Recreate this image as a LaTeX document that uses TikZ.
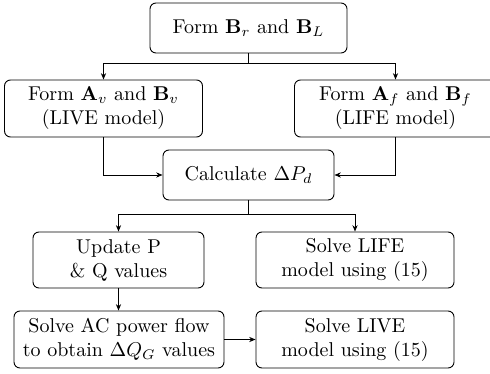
\documentclass[tikz,border=0pt]{standalone}
\usetikzlibrary{arrows.meta}
\begin{document}
\begin{tikzpicture}[x=0.5pt,y=-0.5pt,
  blk/.style={draw,rounded corners=3pt,align=center,inner sep=1pt,line width=0.45pt},
  arr/.style={-{Stealth[length=3.2pt,width=2.6pt]},line width=0.45pt},
  ln/.style={line width=0.45pt}]
\useasboundingbox (0,0) rectangle (490,373);
\node[blk,minimum width=98.5pt,minimum height=25pt] (top) at (248.5,28) {Form $\mathbf{B}_r$ and $\mathbf{B}_L$};
\node[blk,minimum width=99pt,minimum height=28.5pt] (lv) at (103.5,108.5) {Form $\mathbf{A}_v$ and $\mathbf{B}_v$\\(LIVE model)};
\node[blk,minimum width=101pt,minimum height=28.5pt] (lf) at (395.5,108.5) {Form $\mathbf{A}_f$ and $\mathbf{B}_f$\\(LIFE model)};
\node[blk,minimum width=85.5pt,minimum height=25pt] (calc) at (248.5,175) {Calculate $\Delta P_d$};
\node[blk,minimum width=85.5pt,minimum height=28pt] (upd) at (118.5,260) {Update P\\\& Q values};
\node[blk,minimum width=99pt,minimum height=28pt] (life) at (355,260) {Solve LIFE\\model using (15)};
\node[blk,minimum width=105pt,minimum height=28.5pt] (ac) at (119,339.5) {Solve AC power flow\\to obtain $\Delta Q_G$ values};
\node[blk,minimum width=99pt,minimum height=28.5pt] (live) at (355,339.5) {Solve LIVE\\model using (15)};
\coordinate (s1) at (248.5,63);
\coordinate (s2) at (248.5,214);
\draw[ln] (top.south) -- (s1);
\draw[arr] (s1) -| (lv.north);
\draw[arr] (s1) -| (lf.north);
\draw[arr] (lv.south) |- (calc.west);
\draw[arr] (lf.south) |- (calc.east);
\draw[ln] (calc.south) -- (s2);
\draw[arr] (s2) -| (upd.north);
\draw[arr] (s2) -| (life.north);
\draw[arr] (upd.south) -- (upd.south |- ac.north);
\draw[arr] (ac.east) -- (live.west);
\end{tikzpicture}
\end{document}
